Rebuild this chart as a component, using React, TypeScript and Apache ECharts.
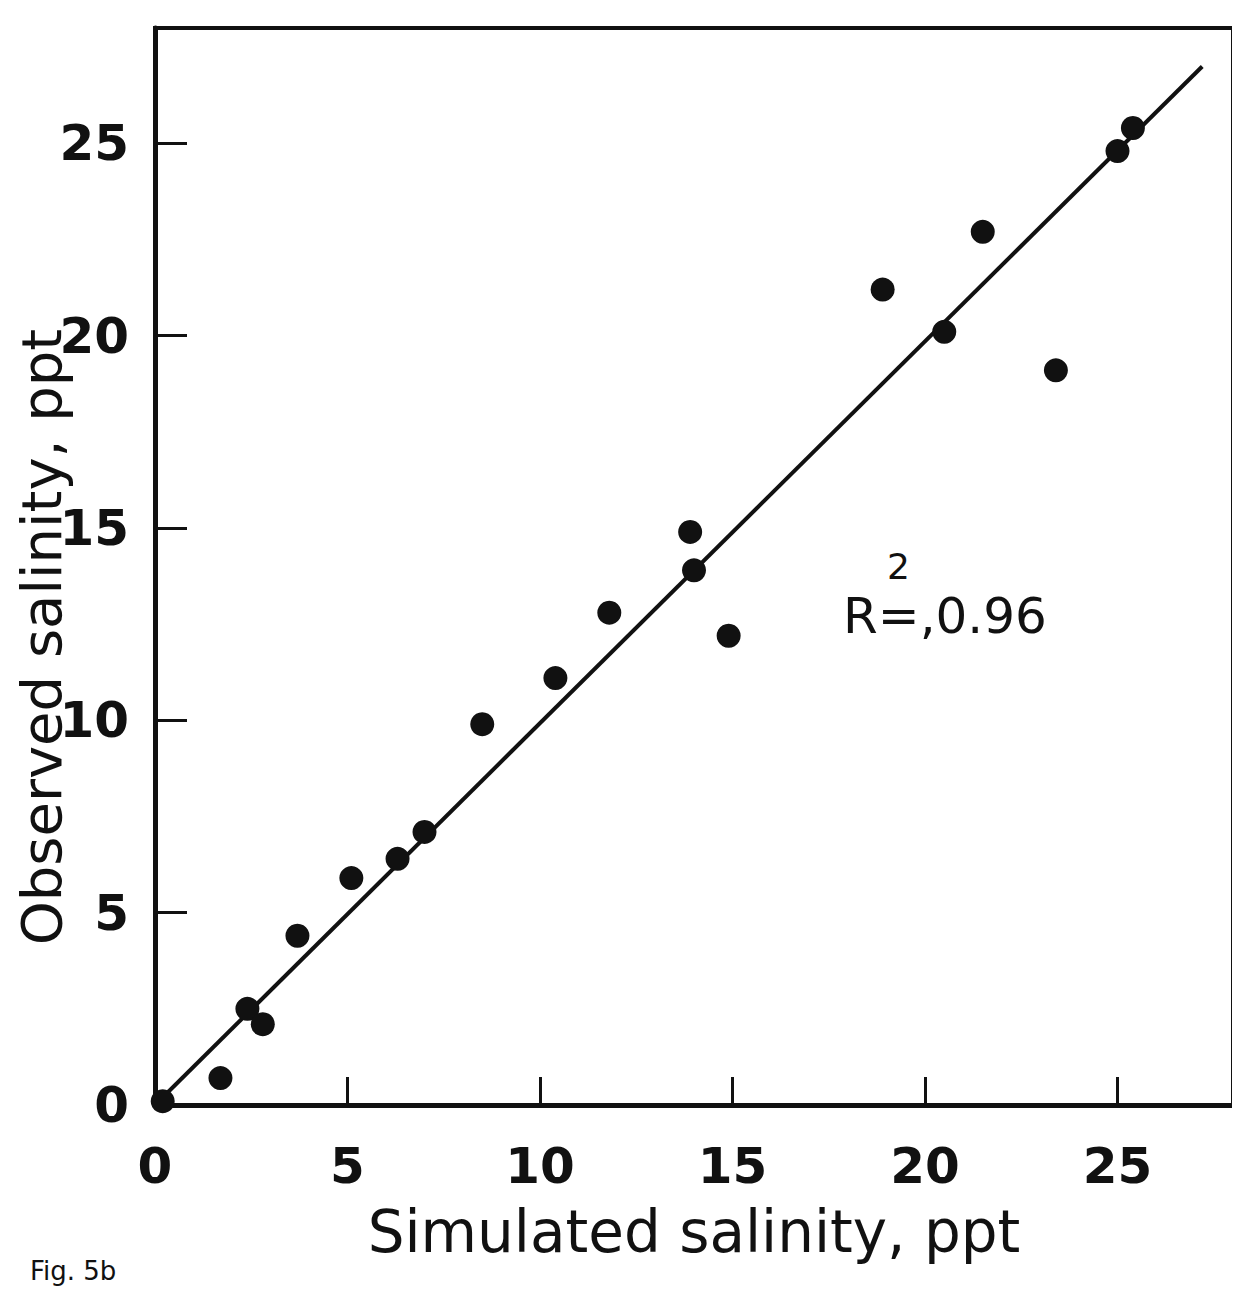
import React, { useEffect, useRef } from "react";
import * as echarts from "echarts";

const simulated = [0.2, 1.7, 2.4, 2.8, 3.7, 5.1, 6.3, 7.0, 8.5, 10.4, 11.8, 13.9, 14.0, 14.9, 18.9, 20.5, 21.5, 23.4, 25.0, 25.4];
const observed = [0.1, 0.7, 2.5, 2.1, 4.4, 5.9, 6.4, 7.1, 9.9, 11.1, 12.8, 14.9, 13.9, 12.2, 21.2, 20.1, 22.7, 19.1, 24.8, 25.4];
const fitX = [0, 27.2];
const fitY = [0, 27.0];
const tickValues = [0, 5, 10, 15, 20, 25];
const xTitle = "Simulated salinity, ppt";
const yTitle = "Observed salinity, ppt";
const r2Sup = "2";
const r2Text = "R=,0.96";
const caption = "Fig. 5b";

export default function App() {
  const ref = useRef<HTMLDivElement>(null);
  useEffect(() => {
    if (!ref.current) return;
    const chart = echarts.init(ref.current, undefined, { renderer: "svg" });
    const points = simulated.map((x, i) => [x, observed[i]]);
    const fit = fitX.map((x, i) => [x, fitY[i]]);
    const labelFont = {
      color: "#111",
      fontFamily: "DejaVu Sans",
      fontWeight: "bold" as const,
      fontSize: 50,
    };
    chart.setOption({
      animation: false,
      backgroundColor: "#fff",
      grid: {
        left: 147,
        top: 20,
        width: 1078,
        height: 1077,
        outerBoundsMode: "none",
        containLabel: false,
        show: true,
        borderColor: "#111",
        borderWidth: 4,
        backgroundColor: "transparent",
      },
      xAxis: {
        type: "value",
        min: 0,
        max: 28,
        interval: 5,
        name: xTitle,
        nameLocation: "middle",
        nameGap: 98,
        nameTextStyle: { color: "#111", fontFamily: "DejaVu Sans", fontSize: 58 },
        axisLine: { show: true, lineStyle: { color: "#111", width: 5 } },
        axisTick: { show: true, inside: true, length: 28, lineStyle: { color: "#111", width: 3 } },
        axisLabel: {
          ...labelFont,
          margin: 36,
          formatter: (v: number) => (tickValues.includes(v) ? String(v) : ""),
        },
        splitLine: { show: false },
      },
      yAxis: {
        type: "value",
        min: 0,
        max: 28,
        interval: 5,
        axisLine: { show: true, lineStyle: { color: "#111", width: 5 } },
        axisTick: { show: true, inside: true, length: 32, lineStyle: { color: "#111", width: 3 } },
        axisLabel: {
          ...labelFont,
          margin: 26,
          formatter: (v: number) => (tickValues.includes(v) ? String(v) : ""),
        },
        splitLine: { show: false },
      },
      series: [
        {
          type: "line",
          data: fit,
          symbol: "none",
          lineStyle: { color: "#111", width: 4 },
          z: 2,
        },
        {
          type: "scatter",
          data: points,
          symbol: "circle",
          symbolSize: 24,
          itemStyle: { color: "#111", opacity: 1 },
          z: 3,
        },
      ],
      graphic: [
        {
          type: "text",
          x: 33,
          y: 629,
          rotation: Math.PI / 2,
          style: {
            text: yTitle,
            fill: "#111",
            font: "56px 'DejaVu Sans'",
            align: "center",
            verticalAlign: "middle",
          },
        },
        {
          type: "text",
          left: 835,
          top: 540,
          style: {
            text: `{s|${r2Sup}}\n{m|${r2Text}}`,
            fill: "#111",
            rich: {
              s: { font: "36px 'DejaVu Sans'", lineHeight: 50, padding: [0, 0, 0, 44], fill: "#111" },
              m: { font: "50px 'DejaVu Sans'", lineHeight: 50, fill: "#111" },
            },
          },
        },
        {
          type: "text",
          left: 22,
          top: 1250,
          style: { text: caption, fill: "#111", font: "26px 'DejaVu Sans'" },
        },
      ],
    });
    return () => chart.dispose();
  }, []);
  return <div ref={ref} style={{ width: 1224, height: 1281 }} />;
}
